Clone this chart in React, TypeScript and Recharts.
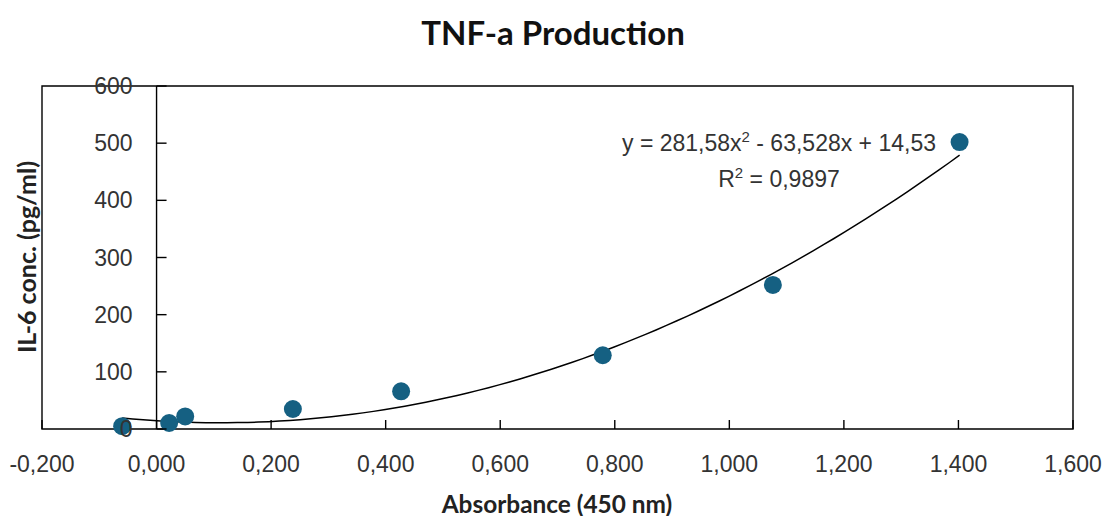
import { ComposedChart, Scatter, Line, XAxis, YAxis, ReferenceArea, ReferenceLine } from 'recharts'

const xTicks = [-0.2, 0, 0.2, 0.4, 0.6, 0.8, 1.0, 1.2, 1.4, 1.6]
const yTicks = [0, 100, 200, 300, 400, 500, 600]

// standard curve points
const absorbance = [-0.06, 0.022, 0.05, 0.238, 0.427, 0.779, 1.076, 1.402]
const concentration = [5, 10.5, 22, 35, 66, 129, 252, 502]

// polynomial trendline y = a x^2 + b x + c (as printed on the chart)
const trendCoefficients = [281.58, -63.528, 14.53]

const W = 1106
const H = 516
const margin = { top: 86, right: 33, left: 41, bottom: 47 }
const Y_AXIS_W = 1
const X_MIN = -0.2
const X_MAX = 1.6
const plotLeft = margin.left + Y_AXIS_W
const plotW = W - plotLeft - margin.right
const zeroX = plotLeft + (plotW * (0 - X_MIN)) / (X_MAX - X_MIN)

const tickFont = '"Liberation Sans", Arial, sans-serif'
const titleFont = 'Lato, "Open Sans", sans-serif'

const points = absorbance.map((x, i) => ({ x, y: concentration[i] }))

const trendData = (() => {
  const [a, b, c] = trendCoefficients
  const lo = absorbance[0]
  const hi = absorbance[absorbance.length - 1]
  const out: { x: number; y: number }[] = []
  for (let i = 0; i <= 80; i++) {
    const x = lo + ((hi - lo) * i) / 80
    out.push({ x, y: a * x * x + b * x + c })
  }
  return out
})()

const fmtX = (v: number) => v.toFixed(3).replace('.', ',')

function XTick({ x, y, payload }: any) {
  return (
    <g>
      <line x1={x} x2={x} y1={y - 9} y2={y} stroke="#000" strokeWidth={1.4} />
      <text x={x} y={y + 35} textAnchor="middle" dominantBaseline="central" fontFamily={tickFont} fontSize={23} fill="#333">
        {fmtX(payload.value)}
      </text>
    </g>
  )
}

function YTick({ y, payload }: any) {
  return (
    <g>
      <line x1={zeroX} x2={zeroX + 10} y1={y} y2={y} stroke="#000" strokeWidth={1.4} />
      <text x={zeroX - 24} y={y} textAnchor="end" dominantBaseline="central" fontFamily={tickFont} fontSize={23} fill="#333">
        {payload.value}
      </text>
    </g>
  )
}

function Dot({ cx, cy }: any) {
  return <circle cx={cx} cy={cy} r={9} fill="#156082" />
}

export default function App() {
  return (
    <div style={{ position: 'absolute', left: 0, top: 0, width: W, height: H, background: '#fff' }}>
      <div
        style={{
          position: 'absolute', left: 0, width: W, top: 11, textAlign: 'center',
          fontFamily: titleFont, fontWeight: 700, fontSize: 33, color: '#111', lineHeight: '42px',
        }}
      >
        TNF-a Production
      </div>
      <ComposedChart width={W} height={H} margin={margin}>
        <XAxis
          type="number"
          dataKey="x"
          domain={[X_MIN, X_MAX]}
          ticks={xTicks}
          allowDataOverflow
          axisLine={false}
          tickLine={false}
          tickSize={0}
          tickMargin={0}
          height={40}
          interval={0}
          tick={<XTick />}
        />
        <YAxis
          type="number"
          dataKey="y"
          domain={[0, 600]}
          ticks={yTicks}
          axisLine={false}
          tickLine={false}
          tickSize={0}
          tickMargin={0}
          width={Y_AXIS_W}
          interval={0}
          tick={<YTick />}
        />
        <ReferenceArea x1={X_MIN} x2={X_MAX} y1={0} y2={600} fill="none" stroke="#000" strokeWidth={1.4} />
        <ReferenceLine x={0} stroke="#000" strokeWidth={1.4} />
        <Scatter data={points} shape={<Dot />} isAnimationActive={false} />
        <Line data={trendData} dataKey="y" type="monotone" dot={false} activeDot={false} stroke="#000" strokeWidth={1.5} isAnimationActive={false} />
      </ComposedChart>
      <div
        style={{
          position: 'absolute', left: 579, width: 400, top: 122, textAlign: 'center',
          fontFamily: tickFont, fontSize: 23, color: '#333', lineHeight: '29px',
        }}
      >
        <div>
          y = 281,58x<sup style={{ fontSize: 15 }}>2</sup> - 63,528x + 14,53
        </div>
        <div>
          R<sup style={{ fontSize: 15 }}>2</sup> = 0,9897
        </div>
      </div>
      <div
        style={{
          position: 'absolute', left: 557 - 200, width: 400, top: 489, textAlign: 'center',
          fontFamily: titleFont, fontWeight: 700, fontSize: 24.4, color: '#222', lineHeight: '30px',
        }}
      >
        Absorbance (450 nm)
      </div>
      <div
        style={{
          position: 'absolute', left: 26 - 150, width: 300, top: 257 - 15, textAlign: 'center',
          transform: 'rotate(-90deg)',
          fontFamily: titleFont, fontWeight: 700, fontSize: 25, color: '#222', lineHeight: '30px',
        }}
      >
        IL-6 conc. (pg/ml)
      </div>
    </div>
  )
}
